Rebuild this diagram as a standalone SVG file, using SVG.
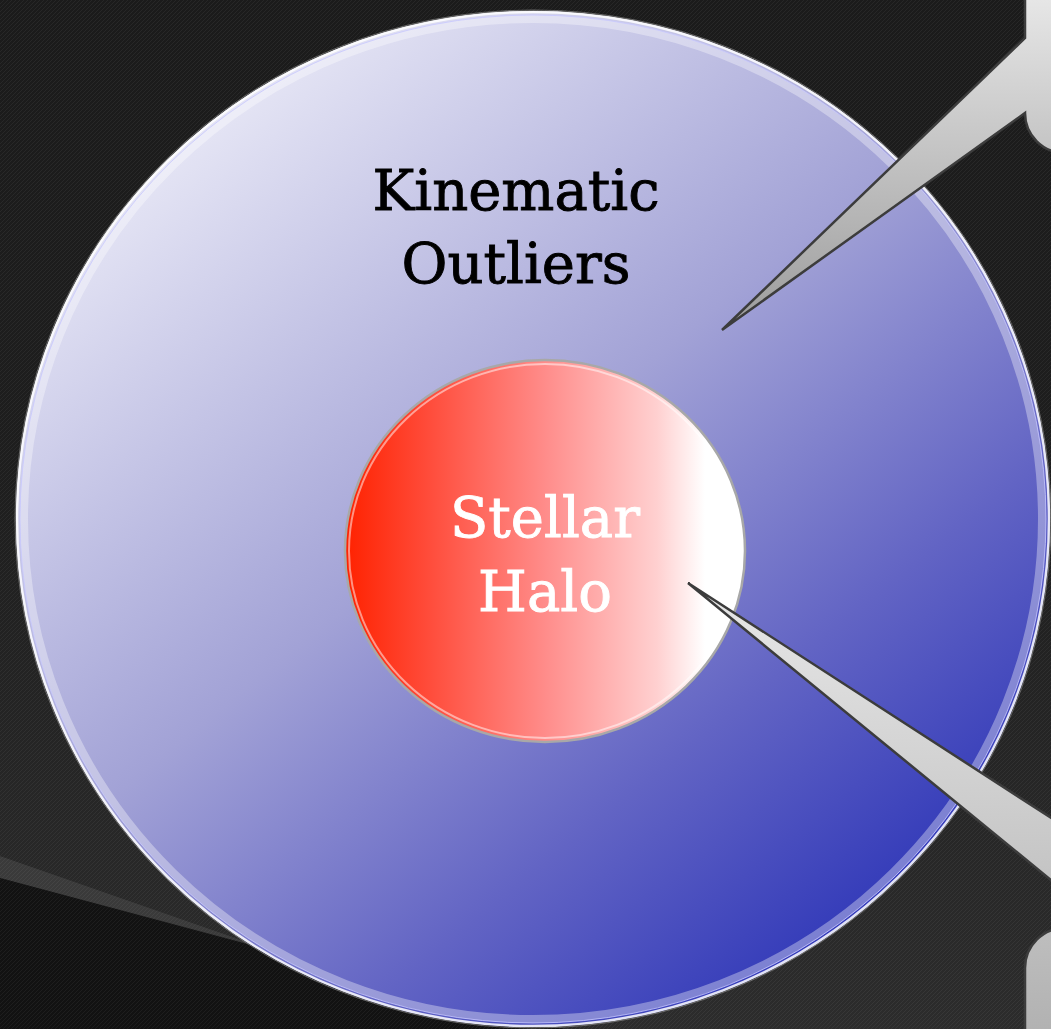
<svg xmlns="http://www.w3.org/2000/svg" width="1051" height="1029" viewBox="0 0 1051 1029">
<defs>
<pattern id="tex" width="4" height="4" patternUnits="userSpaceOnUse">
<path d="M0,4 L4,0" stroke="#ffffff" stroke-opacity="0.05" stroke-width="1"/>
</pattern>
<linearGradient id="bg" x1="0" y1="0" x2="0" y2="1">
<stop offset="0" stop-color="#1b1b1b"/>
<stop offset="0.45" stop-color="#1e1e1e"/>
<stop offset="1" stop-color="#2c2c2c"/>
</linearGradient>
<linearGradient id="outerFill" gradientUnits="userSpaceOnUse" x1="200" y1="100" x2="880" y2="940">
<stop offset="0" stop-color="#e8e8f6"/>
<stop offset="0.45" stop-color="#a2a2d6"/>
<stop offset="0.75" stop-color="#6264c4"/>
<stop offset="1" stop-color="#2e36b8"/>
</linearGradient>
<linearGradient id="innerFill" gradientUnits="userSpaceOnUse" x1="345" y1="0" x2="745" y2="0">
<stop offset="0" stop-color="#ff2200"/>
<stop offset="0.2" stop-color="#ff4a38"/>
<stop offset="0.5" stop-color="#ff8c8a"/>
<stop offset="0.78" stop-color="#ffd0d0"/>
<stop offset="0.9" stop-color="#ffffff"/>
<stop offset="1" stop-color="#ffffff"/>
</linearGradient>
<linearGradient id="calloutTop" gradientUnits="userSpaceOnUse" x1="0" y1="0" x2="0" y2="330">
<stop offset="0" stop-color="#e6e6e6"/>
<stop offset="1" stop-color="#9c9c9c"/>
</linearGradient>
<linearGradient id="calloutBot" gradientUnits="userSpaceOnUse" x1="0" y1="583" x2="0" y2="1029">
<stop offset="0" stop-color="#e8e8e8"/>
<stop offset="1" stop-color="#b2b2b2"/>
</linearGradient>
</defs>
<style>
.callout { stroke: #3c3c3c; stroke-width: 2.5; stroke-linejoin: miter; }
.label { font-family: "DejaVu Serif", "Liberation Serif", serif; font-size: 56px; text-anchor: middle; stroke-width: 0.9; }
</style>

<g id="background">
<rect x="0" y="0" width="1051" height="1029" fill="url(#bg)"/>
<polygon points="0,856 267,949 0,878" fill="#3a3a3a"/>
<polygon points="0,878 1051,1159 0,1159" fill="#121212"/>
<rect x="0" y="0" width="1051" height="1029" fill="url(#tex)"/>
</g>

<g id="node-kinematic-outliers">
<ellipse cx="533" cy="519" rx="517" ry="508" fill="url(#outerFill)"/>
<ellipse cx="533" cy="519" rx="509" ry="500" fill="none" stroke="#ffffff" stroke-opacity="0.35" stroke-width="8"/>
<ellipse cx="533" cy="519" rx="513" ry="504" fill="none" stroke="#c8c8ff" stroke-opacity="0.8" stroke-width="1"/>
<ellipse cx="533" cy="519" rx="516" ry="507" fill="none" stroke="#ffffff" stroke-opacity="0.85" stroke-width="2.5"/>
<ellipse cx="533" cy="519" rx="518" ry="509" fill="none" stroke="#9a9a9a" stroke-opacity="0.6" stroke-width="1"/>
<text class="label" x="516" y="210" fill="#000000" stroke="#000000">Kinematic</text>
<text class="label" x="516" y="283" fill="#000000" stroke="#000000">Outliers</text>
</g>

<g id="node-stellar-halo">
<ellipse cx="545" cy="551" rx="200" ry="191" fill="url(#innerFill)" stroke="#a8a8a8" stroke-width="2.5"/>
<ellipse cx="545" cy="551" rx="196" ry="187" fill="none" stroke="#ffffff" stroke-opacity="0.5" stroke-width="2"/>
<text class="label" x="545" y="537" fill="#ffffff" stroke="#ffffff">Stellar</text>
<text class="label" x="545" y="611" fill="#ffffff" stroke="#ffffff">Halo</text>
</g>

<g id="connectors">
<path id="callout-top" class="callout" fill="url(#calloutTop)" d="M 1025,-10 L 1025,38 L 722,330 L 1025,113 A 40 40 0 0 0 1065,153 L 1100,153 L 1100,-10 Z"/>
<path id="callout-bottom" class="callout" fill="url(#calloutBot)" d="M 688,583 L 1110,856 L 1110,1100 L 1025,1100 L 1025,968 A 40 40 0 0 1 1065,928 L 1090,928 L 1090,912 Z"/>
</g>
</svg>
